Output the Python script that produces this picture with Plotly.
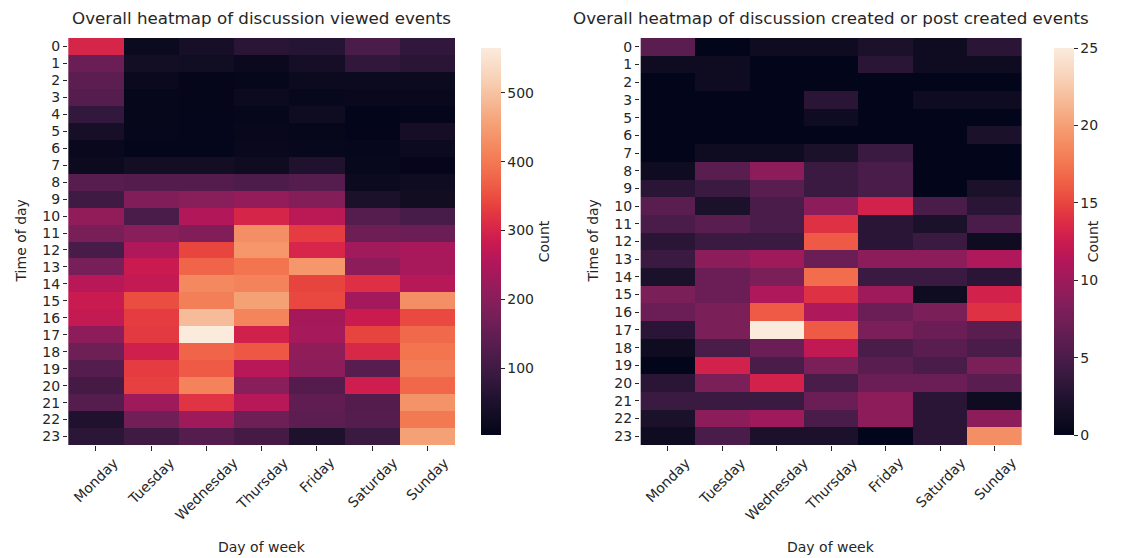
import plotly.graph_objects as go

days = ["Monday", "Tuesday", "Wednesday", "Thursday", "Friday", "Saturday", "Sunday"]
hours_viewed = [str(h) for h in range(24)]
hours_created = ["0", "1", "2", "3", "5", "6", "7", "8", "9", "10", "11", "12",
                 "13", "14", "15", "16", "17", "18", "19", "20", "21", "22", "23"]

viewed = [
    [300, 20, 40, 70, 65, 115, 80],
    [160, 35, 30, 18, 38, 80, 70],
    [140, 18, 8, 10, 20, 20, 20],
    [130, 10, 8, 20, 12, 15, 14],
    [82, 10, 8, 10, 25, 3, 6],
    [40, 10, 6, 13, 10, 4, 38],
    [15, 5, 5, 14, 13, 9, 20],
    [22, 35, 35, 25, 55, 13, 6],
    [135, 128, 128, 120, 130, 20, 25],
    [100, 190, 200, 215, 195, 48, 32],
    [212, 115, 255, 300, 265, 130, 112],
    [178, 200, 190, 430, 330, 163, 160],
    [112, 250, 340, 440, 302, 232, 242],
    [177, 282, 375, 395, 440, 205, 240],
    [262, 275, 420, 412, 338, 315, 260],
    [282, 350, 408, 455, 343, 235, 430],
    [275, 330, 490, 415, 237, 283, 345],
    [205, 328, 565, 292, 238, 338, 380],
    [165, 290, 375, 360, 208, 305, 395],
    [130, 330, 363, 262, 205, 135, 405],
    [108, 335, 412, 200, 128, 288, 378],
    [130, 228, 320, 260, 145, 128, 435],
    [55, 172, 228, 165, 140, 130, 400],
    [72, 100, 130, 108, 50, 95, 455],
]

created = [
    [6, 0, 1, 1, 2, 1, 3],
    [1, 1, 0, 0, 3, 1, 1],
    [0, 1, 0, 0, 0, 0, 0],
    [0, 0, 0, 3, 0, 1, 1],
    [0, 0, 0, 1, 0, 0, 0],
    [0, 0, 0, 0, 0, 0, 2],
    [0, 1, 1, 2, 4, 0, 0],
    [1, 6, 9, 4, 5, 0, 0],
    [3, 4, 6, 4, 5, 0, 2],
    [6, 2, 5, 9, 13, 5, 3],
    [5, 6, 5, 14, 3, 2, 5],
    [3, 4, 4, 16, 3, 4, 1],
    [4, 9, 10, 7, 9, 9, 11],
    [2, 7, 8, 17, 4, 4, 3],
    [8, 7, 11, 14, 10, 1, 13],
    [7, 8, 16, 11, 7, 8, 14],
    [3, 8, 25, 16, 8, 7, 6],
    [1, 5, 7, 12, 5, 6, 5],
    [0, 13, 5, 8, 6, 5, 8],
    [3, 8, 13, 5, 7, 7, 6],
    [4, 4, 4, 7, 9, 3, 1],
    [2, 9, 10, 5, 9, 3, 9],
    [1, 5, 2, 2, 0, 3, 19],
]

viewed_cb_ticks = [100, 200, 300, 400, 500]
created_cb_ticks = [0, 5, 10, 15, 20, 25]

rocket = [
    [0.00, "#03051a"], [0.05, "#120d22"], [0.10, "#221331"], [0.15, "#36193e"],
    [0.20, "#4a1c49"], [0.25, "#5e1d51"], [0.30, "#731f57"], [0.35, "#881e5a"],
    [0.40, "#9e1a5b"], [0.45, "#b3175a"], [0.50, "#cb1b4f"], [0.55, "#dd2c45"],
    [0.60, "#e8453f"], [0.65, "#ef5f46"], [0.70, "#f37651"], [0.75, "#f48b61"],
    [0.80, "#f59f74"], [0.85, "#f6b48f"], [0.90, "#f7c9aa"], [0.95, "#f9dbc6"],
    [1.00, "#faebdd"],
]

W, H = 1137, 558
FONT = "DejaVu Sans"
TXT = "#262626"
FS = 14
TFS = 16.7

def px(x):
    return x / W

def py(y):
    return 1 - y / H

top, bot = 38, 445
L1, R1 = 68, 455
L2, R2 = 640, 1022

vmin = min(min(r) for r in viewed)
vmax = max(max(r) for r in viewed)
cmin = min(min(r) for r in created)
cmax = max(max(r) for r in created)

cb_common = dict(thickness=20, thicknessmode="pixels", len=(bot - top) / H, lenmode="fraction",
                 y=py((top + bot) / 2), yanchor="middle", xanchor="left", outlinewidth=0,
                 ticks="outside", ticklen=4, tickcolor=TXT,
                 tickfont=dict(family=FONT, size=FS, color=TXT))

fig = go.Figure()
fig.add_trace(go.Heatmap(
    z=viewed, x=days, y=hours_viewed, colorscale=rocket, zmin=vmin, zmax=vmax,
    xaxis="x", yaxis="y",
    colorbar=dict(x=px(471), tickvals=viewed_cb_ticks,
                  title=dict(text="Count", side="right", font=dict(family=FONT, size=FS, color=TXT)),
                  **cb_common),
))
fig.add_trace(go.Heatmap(
    z=created, x=days, y=hours_created, colorscale=rocket, zmin=cmin, zmax=cmax,
    xaxis="x2", yaxis="y2",
    colorbar=dict(x=px(1044), tickvals=created_cb_ticks,
                  title=dict(text="Count", side="right", font=dict(family=FONT, size=FS, color=TXT)),
                  **cb_common),
))

xcommon = dict(type="category", showticklabels=False, ticks="outside", ticklen=5,
               tickcolor=TXT, showgrid=False, zeroline=False, showline=False)
ycommon = dict(type="category", autorange="reversed", ticks="outside", ticklen=4,
               tickcolor=TXT, showgrid=False, zeroline=False, showline=False,
               tickfont=dict(family=FONT, size=FS, color=TXT))

fig.update_layout(
    width=W, height=H,
    margin=dict(l=0, r=0, t=0, b=0),
    paper_bgcolor="white", plot_bgcolor="white",
    font=dict(family=FONT, color=TXT),
    xaxis=dict(domain=[px(L1), px(R1)], anchor="y", **xcommon),
    yaxis=dict(domain=[py(bot), py(top)], anchor="x", tickmode="array",
               tickvals=hours_viewed, ticktext=hours_viewed, **ycommon),
    xaxis2=dict(domain=[px(L2), px(R2)], anchor="y2", **xcommon),
    yaxis2=dict(domain=[py(bot), py(top)], anchor="x2", tickmode="array",
                tickvals=hours_created, ticktext=hours_created, **ycommon),
)

ann = []
for xr, L, R, title in [("x", L1, R1, "Overall heatmap of discussion viewed events"),
                        ("x2", L2, R2, "Overall heatmap of discussion created or post created events")]:
    for d in days:
        ann.append(dict(x=d, xref=xr, y=py(bot), yref="paper", yshift=-7, text=d,
                        textangle=-45, showarrow=False, xanchor="center", yanchor="top",
                        font=dict(family=FONT, size=FS, color=TXT)))
    ann.append(dict(x=px((L + R) / 2), xref="paper", y=py(547), yref="paper", text="Day of week",
                    showarrow=False, xanchor="center", yanchor="middle",
                    font=dict(family=FONT, size=FS, color=TXT)))
    ann.append(dict(x=px((L + R) / 2), xref="paper", y=py(18), yref="paper", text=title,
                    showarrow=False, xanchor="center", yanchor="middle",
                    font=dict(family=FONT, size=TFS, color=TXT)))
ann.append(dict(x=px(20), xref="paper", y=py((top + bot) / 2), yref="paper", text="Time of day",
                textangle=-90, showarrow=False, xanchor="center", yanchor="middle",
                font=dict(family=FONT, size=FS, color=TXT)))
ann.append(dict(x=px(592), xref="paper", y=py((top + bot) / 2), yref="paper", text="Time of day",
                textangle=-90, showarrow=False, xanchor="center", yanchor="middle",
                font=dict(family=FONT, size=FS, color=TXT)))
fig.update_layout(annotations=ann)

fig.write_html("out.html")
